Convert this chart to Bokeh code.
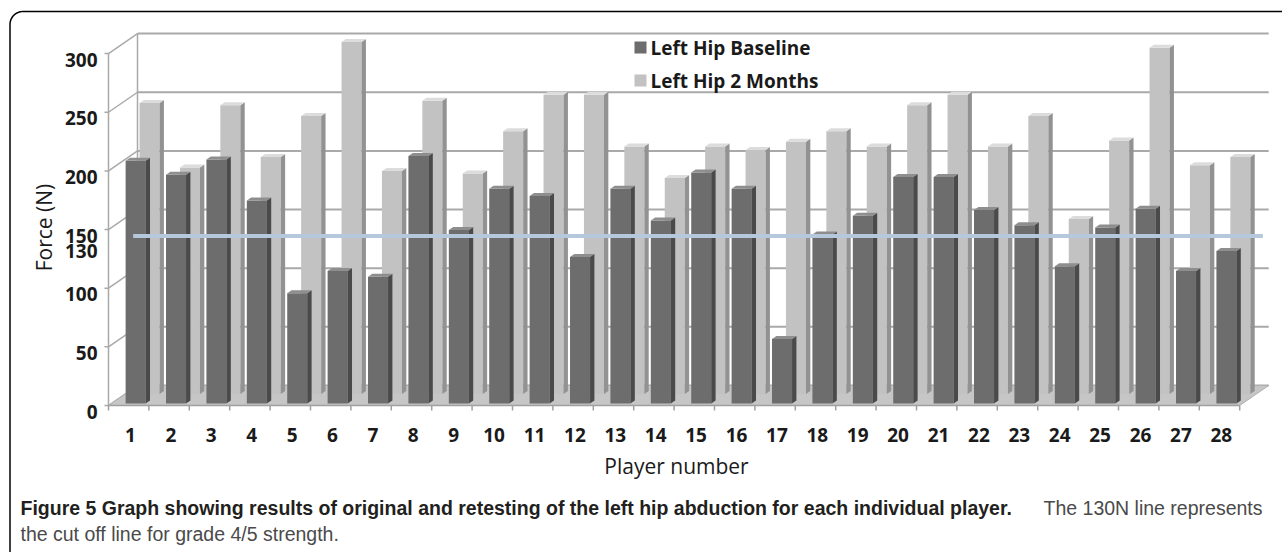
import numpy as np
from bokeh.plotting import figure
from bokeh.models import Range1d
from bokeh.core.properties import value
from bokeh.embed import file_html
from bokeh.resources import INLINE

# ---------------- data ----------------
players = list(range(1, 29))
baseline = [207, 195, 208, 173, 94, 113, 108, 211, 148, 183, 177, 125, 183, 156,
            197, 183, 55, 144, 160, 193, 193, 165, 152, 117, 150, 166, 113, 130]
two_months = [248, 193, 246, 202, 237, 300, 190, 250, 188, 224, 255, 255, 211, 184,
              211, 208, 215, 224, 211, 246, 255, 211, 237, 149, 216, 295, 195, 202]
y_ticks = [0, 50, 100, 150, 200, 250, 300]
cutoff = 130
series_names = ["Left Hip Baseline", "Left Hip 2 Months"]
x_title = "Player number"
y_title = "Force (N)"
caption_bold = ("Figure 5 Graph showing results of original and retesting of the "
                "left hip abduction for each individual player.")
caption_rest = "The 130N line represents"
caption_line2 = "the cut off line for grade 4/5 strength."

# ---------------- geometry / style ----------------
W, H = 1282, 552
PX0, CW = 108.0, 40.4      # pixel x of category origin, px per category
PY0, VS = 405.0, 1.173     # pixel y of value 0 (front), px per unit


def dx(px):
    return (px - PX0) / CW


def dy(py):
    return (PY0 - py) / VS


DXD = 29.0 / CW     # oblique offset for full depth (x, in categories)
DYD = 20.0 / VS     # oblique offset for full depth (y, in value units)
N = len(players)
CO, HW = 0.6, 0.248
GRID = "#a9a9a9"
DARK = ("#6d6d6d", "#4a4a4a", "#8e8e8e")
LIGHT = ("#c2c2c2", "#929292", "#dcdcdc")
FONT = value("Open Sans")

p = figure(width=W, height=H, x_range=Range1d(dx(0), dx(W)),
           y_range=Range1d(dy(H), dy(0)), x_axis_location=None,
           y_axis_location=None, toolbar_location=None, output_backend="svg",
           min_border=0, outline_line_color=None, background_fill_color="white",
           border_fill_color="white")
p.grid.visible = False

# walls
yt = np.array(y_ticks, float)
p.segment(x0=[DXD] * len(yt), y0=yt + DYD, x1=[N + DXD] * len(yt), y1=yt + DYD,
          line_color=GRID, line_width=2)
p.segment(x0=[0] * len(yt), y0=yt, x1=[DXD] * len(yt), y1=yt + DYD,
          line_color=GRID, line_width=1.5)
p.segment(x0=[dx(104)] * len(yt), y0=yt, x1=[0] * len(yt), y1=yt,
          line_color=GRID, line_width=1.5)
p.segment(x0=[0, DXD], y0=[0, DYD], x1=[0, DXD], y1=[max(y_ticks), max(y_ticks) + DYD],
          line_color=GRID, line_width=1.5)

# floor
p.patch(x=[0, N, N + DXD, DXD], y=[0, 0, DYD, DYD], fill_color="#c6c6c6",
        line_color="#b0b0b0", line_width=1)
p.segment(x0=[0], y0=[0], x1=[N], y1=[0], line_color="#a0a0a0", line_width=1.5)
kk = np.arange(N + 1)
p.segment(x0=kk, y0=np.zeros(N + 1), x1=kk, y1=np.full(N + 1, -5 / VS),
          line_color="#a0a0a0", line_width=1.5)


def bars(vals, depth, th, cols):
    c = np.array(players, float) - 1
    v = np.array(vals, float)
    xl = c + CO - HW + DXD * depth
    xr = c + CO + HW + DXD * depth
    yb = np.full_like(v, DYD * depth)
    ytop = v + DYD * depth
    ox, oy = DXD * th, DYD * th
    p.quad(left=xl, right=xr, bottom=yb, top=ytop, fill_color=cols[0],
           line_color=None)
    p.patches(xs=[[a, a + ox, a + ox, a] for a in xr],
              ys=[[b, b + oy, t + oy, t] for b, t in zip(yb, ytop)],
              fill_color=cols[1], line_color=None)
    p.patches(xs=[[l, r, r + ox, l + ox] for l, r in zip(xl, xr)],
              ys=[[t, t, t + oy, t + oy] for t in ytop],
              fill_color=cols[2], line_color=None)


bars(two_months, 0.58, 0.15, LIGHT)
bars(baseline, 0.10, 0.15, DARK)

# cut-off line
p.segment(x0=[DXD * 0.85], y0=[cutoff + DYD * 0.85], x1=[N + DXD * 0.8],
          y1=[cutoff + DYD * 0.85], line_color="#b5c8dc", line_width=4)

# tick labels
TS = value("19px")
p.text(x=[dx(97)] * len(y_ticks), y=y_ticks, text=[str(v) for v in y_ticks],
       text_align="right", text_baseline="middle", y_offset=6,
       text_font=FONT, text_font_size=TS, text_font_style=value("bold"),
       text_color="#1a1a1a")
p.text(x=[dx(97)], y=[cutoff], text=[str(cutoff)], text_align="right",
       text_baseline="middle", y_offset=-2.5, text_font=FONT,
       text_font_size=TS, text_font_style=value("bold"), text_color="#1a1a1a")
p.text(x=np.array(players) - 1 + 22 / CW, y=[dy(434)] * N,
       text=[str(i) for i in players], text_align="center", text_baseline="middle",
       text_font=FONT, text_font_size=TS, text_font_style=value("bold"),
       text_color="#1a1a1a")

# axis titles
p.text(x=[dx(676)], y=[dy(465)], text=[x_title], text_align="center",
       text_baseline="middle", text_font=FONT, text_font_size=value("21px"),
       text_color="#1a1a1a")
p.text(x=[dx(43)], y=[dy(227)], text=[y_title], angle=np.pi / 2,
       text_align="center", text_baseline="middle", text_font=FONT,
       text_font_size=value("21px"), text_color="#1a1a1a")

# legend
p.scatter(x=[dx(640)] * 2, y=[dy(47), dy(80)], marker="square", size=12,
          fill_color=[DARK[0], LIGHT[0]], line_color=None)
p.text(x=[dx(650)] * 2, y=[dy(47), dy(80)], text=series_names, text_align="left",
       text_baseline="middle", text_font=FONT, text_font_size=value("19px"),
       text_font_style=value("bold"), text_color="#1a1a1a")

# caption
CAPF = value("Liberation Sans")
p.text(x=[dx(20)], y=[dy(507)], text=[caption_bold], text_align="left",
       text_baseline="middle", text_font=CAPF, text_font_size=value("19.5px"),
       text_font_style=value("bold"), text_color="#231f20")
p.text(x=[dx(1262)], y=[dy(507)], text=[caption_rest], text_align="right",
       text_baseline="middle", text_font=CAPF, text_font_size=value("19.5px"),
       text_color="#4a4a4a")
p.text(x=[dx(20)], y=[dy(533)], text=[caption_line2], text_align="left",
       text_baseline="middle", text_font=CAPF, text_font_size=value("19.5px"),
       text_color="#4a4a4a")

# rounded frame
r = 13.0
th = np.linspace(np.pi, np.pi / 2, 24)
fx = np.concatenate([[9.5], 9.5 + r + r * np.cos(th), [1300]])
fy = np.concatenate([[600], 11 + r - r * np.sin(th), [11]])
p.line(x=dx(fx), y=dy(fy), line_color="#000000", line_width=1.5)

open("out.html", "w").write(file_html(p, INLINE))
